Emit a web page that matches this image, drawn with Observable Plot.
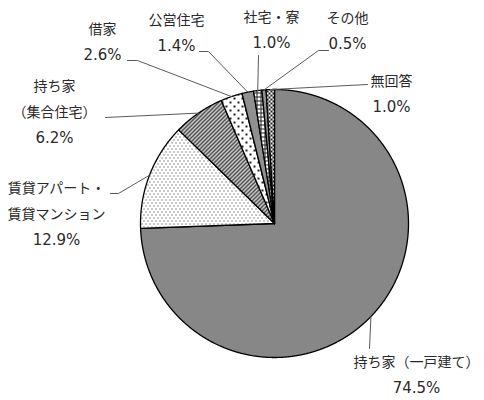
<!DOCTYPE html>
<html><head><meta charset="utf-8">
<script src="https://cdn.jsdelivr.net/npm/d3@7"></script>
<script src="https://cdn.jsdelivr.net/npm/@observablehq/plot@0.6"></script>
<style>body{margin:0;background:#fff}</style>
</head><body><div id="chart"></div>
<script>
// ---- data ----
const categories = ["持ち家（一戸建て）","賃貸アパート・賃貸マンション","持ち家（集合住宅）","借家","公営住宅","社宅・寮","その他","無回答"];
const values = [74.5, 12.9, 6.2, 2.6, 1.4, 1.0, 0.5, 1.0];
const labelLines = [["持ち家（一戸建て）"],["賃貸アパート・","賃貸マンション"],["持ち家","（集合住宅）"],["借家"],["公営住宅"],["社宅・寮"],["その他"],["無回答"]];

// ---- layout / style ----
const W = 484, H = 400, cx = 274, cy = 223, r = 134;
const fills = ["#878787","url(#pFineDots)","url(#pHatch)","url(#pSparse)","url(#pCheckFine)","url(#pGrid)","url(#pVlines)","url(#pCheckCoarse)"];
const labelPos = [[416,362],[56,188],[54,86],[102,29],[176,20],[271,17],[347,18],[391,81]];
const lineStep = 26;
const leaderStarts = [
  [[369,348]],
  [[110,193],[118,193]],
  [[105,117]],
  [[127,60],[137,60]],
  [[199,51],[208,51]],
  [[258,55]],
  [[328,50],[318,50]],
  [[367,84]]
];

const total = d3.sum(values);
const cum = d3.cumsum(values);
const slices = values.map((v, i) => {
  const a0 = ((cum[i] - v) / total) * 2 * Math.PI;
  const a1 = (cum[i] / total) * 2 * Math.PI;
  return {name: categories[i], a0, a1, mid: (a0 + a1) / 2};
});
const px = a => cx + r * Math.sin(a);
const py = a => cy - r * Math.cos(a);

const slicePts = [];
slices.forEach(s => {
  slicePts.push({name: s.name, x: cx, y: cy});
  const n = Math.max(2, Math.ceil((s.a1 - s.a0) / (Math.PI / 720)));
  for (let k = 0; k <= n; k++) {
    const a = s.a0 + (s.a1 - s.a0) * k / n;
    slicePts.push({name: s.name, x: px(a), y: py(a)});
  }
  slicePts.push({name: s.name, x: cx, y: cy});
});

const leaderPts = [];
slices.forEach((s, i) => {
  leaderStarts[i].forEach(([x, y]) => leaderPts.push({name: s.name, x, y}));
  leaderPts.push({name: s.name, x: px(s.mid), y: py(s.mid)});
});

const nameText = [], pctText = [];
categories.forEach((c, i) => {
  const [x, y0] = labelPos[i];
  labelLines[i].forEach((t, k) => nameText.push({x, y: y0 + k * lineStep, text: t}));
  pctText.push({x, y: y0 + labelLines[i].length * lineStep, text: values[i].toFixed(1) + "%"});
});

const cjkFont = "'Noto Sans CJK JP', sans-serif";
const numFont = "'DejaVu Sans', sans-serif";

const sliceMarks = slices.map((s, i) =>
  Plot.line(slicePts.filter(d => d.name === s.name), {
    x: "x", y: "y", fill: fills[i], stroke: "#000", strokeWidth: 1.3, strokeLinejoin: "round"
  })
);

const svg = Plot.plot({
  width: W, height: H, margin: 0,
  x: {domain: [0, W], range: [0, W], axis: null},
  y: {domain: [0, H], range: [0, H], axis: null},
  style: {background: "#fff"},
  marks: [
    ...sliceMarks,
    Plot.line(leaderPts, {x: "x", y: "y", z: "name", stroke: "#5a5a5a", strokeWidth: 1}),
    Plot.text(nameText, {
      x: "x", y: "y", text: "text", fontSize: 14, fill: "#2a2a2a",
      textAnchor: "middle", lineAnchor: "middle", fontFamily: cjkFont
    }),
    Plot.text(pctText, {
      x: "x", y: "y", text: "text", fontSize: 15, fill: "#2a2a2a",
      textAnchor: "middle", lineAnchor: "middle", fontFamily: numFont
    })
  ]
});

// pattern definitions
const defs = d3.create("svg:defs");
function pat(id, w, h, draw) {
  const p = defs.append("pattern").attr("id", id).attr("patternUnits", "userSpaceOnUse")
    .attr("width", w).attr("height", h).attr("shape-rendering", "crispEdges");
  p.append("rect").attr("width", w).attr("height", h).attr("fill", "#fff");
  draw(p);
}
const dot = (p, x, y, s, c) => p.append("rect").attr("x", x).attr("y", y).attr("width", s).attr("height", s).attr("fill", c);
pat("pFineDots", 4, 6, p => { dot(p, 1, 1, 1, "#222"); dot(p, 3, 4, 1, "#222"); });
pat("pHatch", 4, 4, p => p.append("path").attr("d", "M-1,1L1,-1M0,4L4,0M3,5L5,3")
  .attr("stroke", "#222").attr("stroke-width", 1.5).attr("shape-rendering", "auto"));
pat("pSparse", 8, 8, p => { dot(p, 1, 1, 1.5, "#222"); dot(p, 5, 5, 1.5, "#222"); });
pat("pCheckFine", 2, 2, p => { dot(p, 0, 0, 1, "#222"); dot(p, 1, 1, 1, "#222"); });
pat("pGrid", 4, 4, p => p.append("path").attr("d", "M0,0.5H4M0.5,0V4").attr("stroke", "#222").attr("stroke-width", 1));
pat("pVlines", 2, 2, p => p.append("rect").attr("x", 0).attr("y", 0).attr("width", 1).attr("height", 2).attr("fill", "#222"));
pat("pCheckCoarse", 4, 4, p => { dot(p, 0, 0, 2, "#222"); dot(p, 2, 2, 2, "#222"); });
svg.insertBefore(defs.node(), svg.firstChild);

document.getElementById("chart").appendChild(svg);
</script>
</body></html>
